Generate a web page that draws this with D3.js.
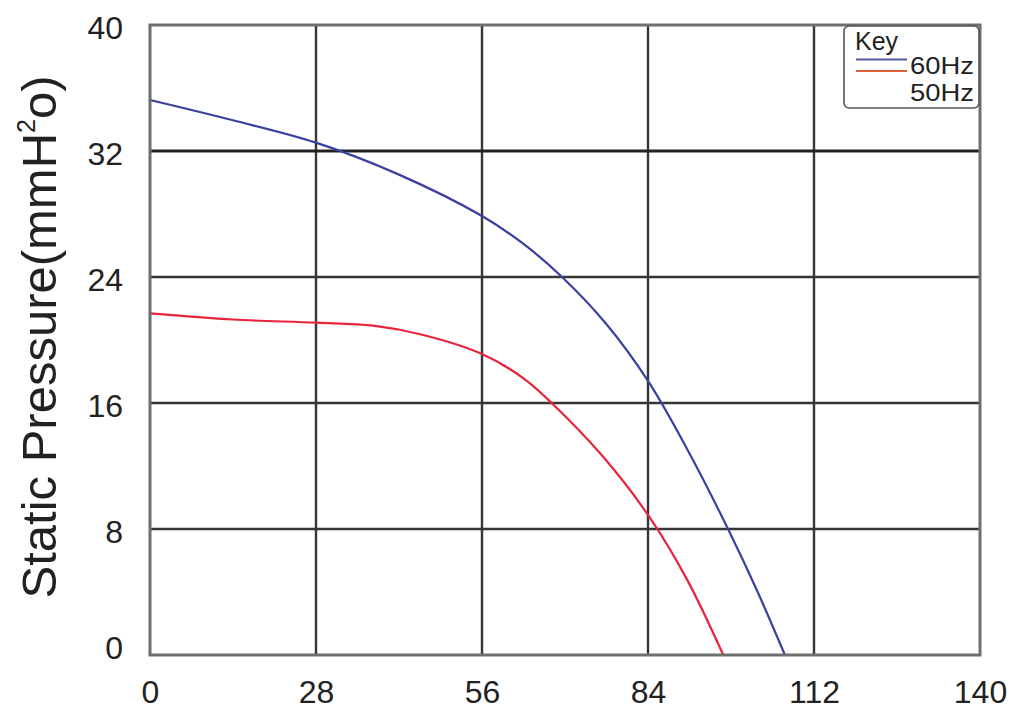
<!DOCTYPE html>
<html>
<head>
<meta charset="utf-8">
<script src="https://cdn.jsdelivr.net/npm/d3@7"></script>
<style>
  html, body { margin: 0; padding: 0; background: #fff; }
  svg { display: block; }
  text { font-family: "Liberation Sans", Arial, Helvetica, sans-serif; fill: #222; }
</style>
</head>
<body>
<svg id="chart" width="1026" height="721"></svg>
<script>
// ---- data ----
const xTicks = [0, 28, 56, 84, 112, 140];
const yTicks = [0, 8, 16, 24, 32, 40];
const seriesNames = ["60Hz", "50Hz"];
const flow60 = [0, 14, 28, 42, 56, 63, 69.5, 77, 84, 91, 97.5, 102.5, 107.1];
const pres60 = [35.24, 33.95, 32.53, 30.5, 27.87, 26.1, 24.0, 21.0, 17.4, 12.8, 8.0, 4.0, 0];
const flow50 = [0, 14, 28, 37.65, 46.1, 56, 63, 67.75, 76.4, 84, 90.5, 96.7];
const pres50 = [21.69, 21.3, 21.1, 20.91, 20.32, 19.11, 17.57, 16.0, 12.6, 8.89, 4.85, 0];
const yTitle = "Static Pressure(mmH";
const yTitleSup = "2";
const yTitleEnd = "o)";
const legendTitle = "Key";

// ---- layout ----
const svg = d3.select("#chart");
const pLeft = 150, pRight = 980, pTop = 25, pBottom = 655;
const x = d3.scaleLinear().domain([0, 140]).range([pLeft, pRight]);
const y = d3.scaleLinear().domain([0, 40]).range([pBottom, pTop]);

// grid
const g = svg.append("g");
g.selectAll("line.vg").data(xTicks.slice(1, -1)).enter().append("line")
  .attr("x1", d => x(d)).attr("x2", d => x(d))
  .attr("y1", pTop).attr("y2", pBottom)
  .attr("stroke", "#363636").attr("stroke-width", 2.4);
g.selectAll("line.hg").data(yTicks.slice(1, -1)).enter().append("line")
  .attr("x1", pLeft).attr("x2", pRight)
  .attr("y1", d => y(d)).attr("y2", d => y(d))
  .attr("stroke", d => d === 32 ? "#222" : "#363636")
  .attr("stroke-width", d => d === 32 ? 3 : 2.4);

// curves
const line = d3.line().x(d => x(d[0])).y(d => y(d[1])).curve(d3.curveCatmullRom.alpha(0.5));
const d60 = flow60.map((f, i) => [f, pres60[i]]);
const d50 = flow50.map((f, i) => [f, pres50[i]]);
svg.append("path").datum(d60).attr("d", line)
  .attr("fill", "none").attr("stroke", "#3a40a0").attr("stroke-width", 2.2);
svg.append("path").datum(d50).attr("d", line)
  .attr("fill", "none").attr("stroke", "#e8243a").attr("stroke-width", 2.2);

// border
svg.append("rect").attr("x", pLeft).attr("y", pTop)
  .attr("width", pRight - pLeft).attr("height", pBottom - pTop)
  .attr("fill", "none").attr("stroke", "#6e6e6e").attr("stroke-width", 3);

// axes labels
const xAxis = d3.axisBottom(x).tickValues(xTicks).tickSize(0).tickPadding(0);
const xa = svg.append("g").attr("transform", `translate(0,${pBottom})`).call(xAxis);
xa.select(".domain").remove();
xa.selectAll("text").attr("font-size", 32).attr("dy", null).attr("y", 48)
  .attr("font-family", "Liberation Sans, Arial, sans-serif").attr("fill", "#222");

const yAxis = d3.axisLeft(y).tickValues(yTicks).tickSize(0).tickPadding(0);
const ya = svg.append("g").attr("transform", `translate(${pLeft - 27},0)`).call(yAxis);
ya.select(".domain").remove();
ya.selectAll("text").attr("font-size", 32)
  .attr("dy", d => d === 0 ? "0.12em" : "0.42em")
  .attr("font-family", "Liberation Sans, Arial, sans-serif").attr("fill", "#222");

// y title
const yt = svg.append("text")
  .attr("transform", "translate(56,337) rotate(-90)")
  .attr("text-anchor", "middle")
  .attr("font-size", 49);
yt.append("tspan").text(yTitle);
yt.append("tspan").attr("font-size", 25).attr("dy", -21).text(yTitleSup);
yt.append("tspan").attr("dy", 21).text(yTitleEnd);

// legend
const lg = svg.append("g");
lg.append("rect").attr("x", 844).attr("y", 26).attr("width", 135).attr("height", 82)
  .attr("rx", 5).attr("fill", "#fff").attr("stroke", "#555").attr("stroke-width", 1.6);
lg.append("text").attr("x", 855).attr("y", 50).attr("font-size", 25).text(legendTitle);
const legColors = ["#5558aa", "#e0603c"];
seriesNames.forEach((s, i) => {
  lg.append("line").attr("x1", 856).attr("x2", 907)
    .attr("y1", 59.5 + i * 11.5).attr("y2", 59.5 + i * 11.5)
    .attr("stroke", legColors[i]).attr("stroke-width", 2.2);
  lg.append("text").attr("x", 910).attr("y", 73.5 + i * 27)
    .attr("font-size", 24)
    .attr("textLength", 64).attr("lengthAdjust", "spacingAndGlyphs")
    .text(s);
});
</script>
</body>
</html>
